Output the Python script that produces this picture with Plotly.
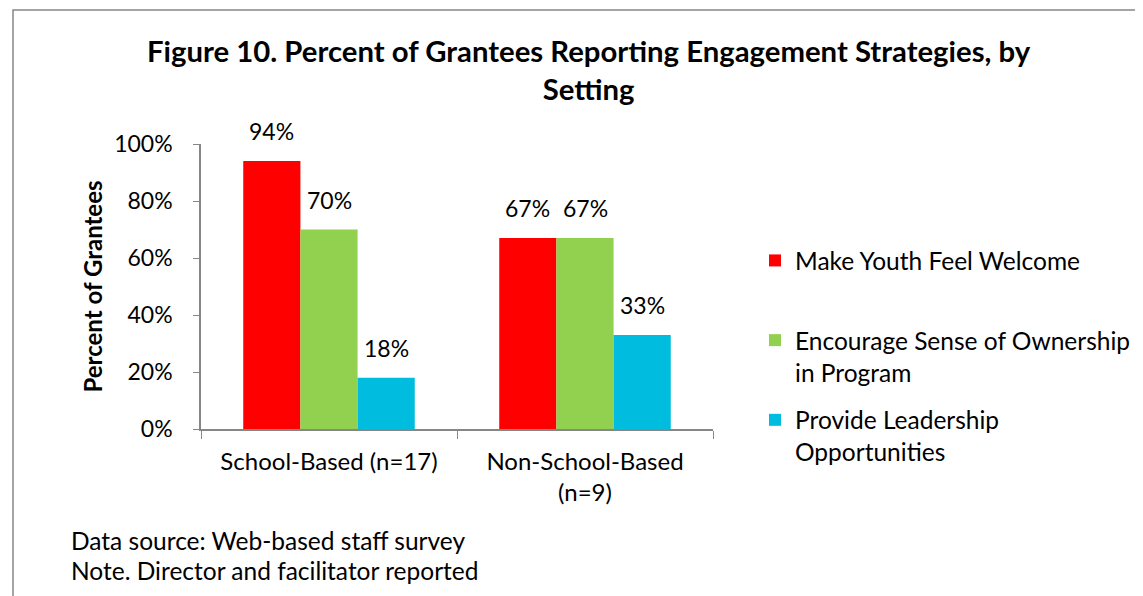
import plotly.graph_objects as go

categories = ["School-Based (n=17)", "Non-School-Based<br>(n=9)"]
series_names = ["Make Youth Feel Welcome<br> ", "Encourage Sense of Ownership<br>in Program", "Provide Leadership<br>Opportunities"]
welcome = [94, 67]
ownership = [70, 67]
leadership = [18, 33]
colors = ["#FF0000", "#92D050", "#00BDE0"]
yticks = [0, 20, 40, 60, 80, 100]

FONT = "Lato, Carlito, Calibri, sans-serif"
OFF = 8  # page body margin
W, H = 1143, 596
L, R, T, B = 201 - OFF, 713 - OFF, 144 - OFF, 429 - OFF
BARGAP = 0.33

fig = go.Figure()
all_series = [welcome, ownership, leadership]
for k, (name, vals, col) in enumerate(zip(series_names, all_series, colors)):
    fig.add_trace(go.Bar(
        x=categories, y=vals, name=name, legendgroup=f"g{k}",
        marker=dict(color=col, line=dict(width=0)),
    ))

# value labels placed above each bar via the axis scales
nser = len(all_series)
bw = (1 - BARGAP) / nser
for k, vals in enumerate(all_series):
    for i, v in enumerate(vals):
        fig.add_annotation(x=i + (k - (nser - 1) / 2) * bw, y=v, xref="x", yref="y",
                           text=f"{v}%", showarrow=False, yanchor="bottom", yshift=14,
                           font=dict(size=23, family=FONT, color="#000000"))

def px_x(p):
    return (p - OFF - L) / (R - L)

def px_y(p):
    return (B - (p - OFF)) / (B - T)

fig.update_layout(
    width=W, height=H,
    margin=dict(l=L, r=W - R, t=T, b=H - B, autoexpand=False),
    paper_bgcolor="white", plot_bgcolor="white",
    barmode="group", bargap=BARGAP, bargroupgap=0,
    font=dict(family=FONT, color="#000000"),
    showlegend=True,
    legend=dict(x=px_x(755), y=px_y(238), xanchor="left", yanchor="top",
                font=dict(size=24.5, family=FONT, color="#000000"),
                tracegroupgap=13, itemwidth=30, valign="top", traceorder="grouped",
                bgcolor="rgba(0,0,0,0)"),
    xaxis=dict(showline=True, linecolor="#868686", linewidth=1.5,
               ticks="outside", tickson="boundaries", ticklen=8, tickcolor="#868686",
               tickfont=dict(size=24, family=FONT, color="#000000"), ticklabelstandoff=10,
               showgrid=False, zeroline=False),
    yaxis=dict(range=[0, 100], tickvals=yticks, ticktext=[f"{v}%" for v in yticks],
               showline=True, linecolor="#868686", linewidth=1.5,
               ticks="outside", ticklen=6, tickcolor="#868686",
               tickfont=dict(size=23, family=FONT, color="#000000"), ticklabelstandoff=16,
               showgrid=False, zeroline=False,
               title=dict(text="<b>Percent of Grantees</b>", font=dict(size=24, family=FONT, color="#000000"), standoff=5)),
)

fig.add_annotation(x=px_x(589), y=px_y(69), xref="paper", yref="paper",
                   text="<b>Figure 10. Percent of Grantees Reporting Engagement Strategies, by<br>Setting</b>",
                   showarrow=False, font=dict(size=29.3, family=FONT, color="#000000"),
                   xanchor="center", yanchor="middle", align="center")
fig.add_annotation(x=px_x(69), y=px_y(540), xref="paper", yref="paper",
                   text="Data source: Web-based staff survey", showarrow=False,
                   font=dict(size=24.5, family=FONT, color="#000000"), xanchor="left", yanchor="middle")
fig.add_annotation(x=px_x(69), y=px_y(570), xref="paper", yref="paper",
                   text="Note. Director and facilitator reported", showarrow=False,
                   font=dict(size=24.5, family=FONT, color="#000000"), xanchor="left", yanchor="middle")

fig.add_shape(type="rect", xref="paper", yref="paper",
              x0=px_x(13), y0=px_y(640), x1=px_x(1180), y1=px_y(10),
              line=dict(color="#868686", width=1.5), fillcolor="rgba(0,0,0,0)", layer="below")

fig.write_html("out.html")
